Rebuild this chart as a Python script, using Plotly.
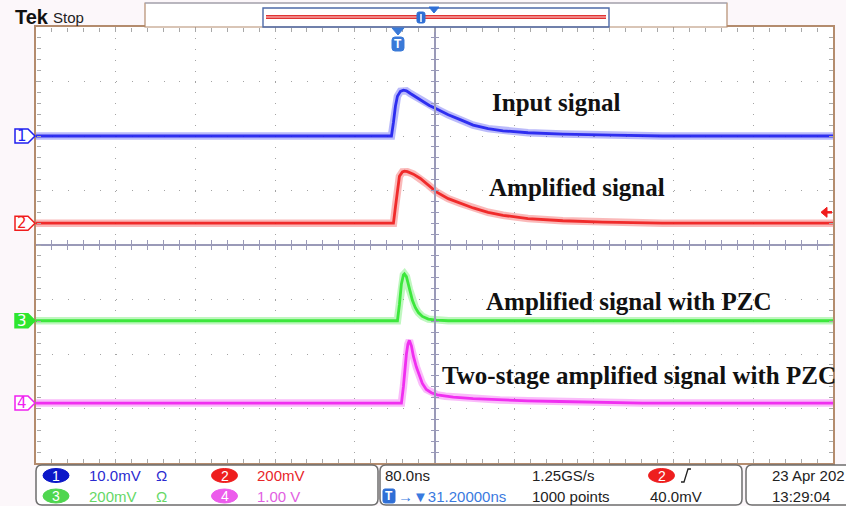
import plotly.graph_objects as go

# ---------------- acquisition settings ----------------
TIME_PER_DIV = 80.0      # ns / div
H_DELAY = 31.2           # ns, trigger -> screen centre
N_HDIV, N_VDIV = 10, 8

ch_names = ["1", "2", "3", "4"]
ch_scale = [10.0, 200.0, 200.0, 1.00]      # units / div
ch_units = ["mV", "mV", "mV", "V"]
ch_pos = [2.0, 0.40, -1.39, -2.90]         # vertical position, div
ch_colors = ["#1f1ff0", "#f01c1c", "#2ee62e", "#f020f0"]
ch_marker_filled = [False, False, True, False]
trig_level_mV = 40.0                        # on channel 2

# ---------------- waveforms (time relative to trigger, ns) ----------------
t1 = [-368.8, -12, -10, -8, -6, -3, 0, 3, 7, 12, 18, 26, 34, 45, 57, 70, 85,
      100, 125, 160, 210, 260, 431.2]
v1 = [0, 0, 2.5, 5.5, 7.3, 8.2, 8.4, 8.3, 7.8, 7.2, 6.5, 5.6, 4.9, 3.9, 3.0,
      2.0, 1.35, 0.95, 0.6, 0.35, 0.15, 0, 0]                       # mV

t2 = [-368.8, -10, -8, -6, -4, -1, 1, 4, 10, 17, 25, 33, 45, 57, 70, 85, 100,
      125, 160, 200, 260, 431.2]
v2 = [0, 0, 60, 125, 172, 188, 191, 189, 180, 164, 140, 115, 90, 73, 56, 40,
      29, 17, 9, 4, 0, 0]                                            # mV

t3 = [-368.8, -6, -4, -2, 0, 1, 3, 6, 9, 12, 15, 19, 25, 33, 45, 431.2]
v3 = [0, 0, 60, 135, 168, 172, 162, 115, 75, 48, 30, 16, 6, 2, 0, 0]  # mV

t4 = [-368.8, -2, 0, 1.5, 3, 4.5, 6, 8, 10, 13, 16, 19, 23, 28, 34, 42, 50,
      70, 97, 125, 157, 200, 240, 431.2]
v4 = [0, 0, 0.3, 0.65, 0.9, 1.08, 1.15, 1.05, 0.86, 0.66, 0.5, 0.36, 0.25,
      0.19, 0.15, 0.125, 0.11, 0.08, 0.055, 0.04, 0.028, 0.012, 0, 0]  # V

waves = [(t1, v1), (t2, v2), (t3, v3), (t4, v4)]

trace_labels = ["Input signal", "Amplified signal",
                "Amplified signal with PZC",
                "Two-stage amplified signal with PZC"]

# ---------------- page geometry ----------------
FIG_W, FIG_H = 846, 506
L, R, T, B = 36, 833, 27, 463
W, H = R - L, B - T


def px(x):
    return (x - L) / W


def py(y):
    return (B - y) / H


def path_px(points, close=True):
    s = "M " + " L ".join(f"{px(x):.5f},{py(y):.5f}" for x, y in points)
    return s + (" Z" if close else "")


def rrect(x0, y0, x1, y1, r):
    def p(x, y):
        return f"{px(x):.5f},{py(y):.5f}"
    return (f"M {p(x0 + r, y0)} L {p(x1 - r, y0)} Q {p(x1, y0)} {p(x1, y0 + r)} "
            f"L {p(x1, y1 - r)} Q {p(x1, y1)} {p(x1 - r, y1)} "
            f"L {p(x0 + r, y1)} Q {p(x0, y1)} {p(x0, y1 - r)} "
            f"L {p(x0, y0 + r)} Q {p(x0, y0)} {p(x0 + r, y0)} Z")


fig = go.Figure()

x_range = [H_DELAY - N_HDIV / 2 * TIME_PER_DIV, H_DELAY + N_HDIV / 2 * TIME_PER_DIV]
y_range = [-N_VDIV / 2, N_VDIV / 2]

BORDER = "#b48c6e"
GRID = "#a4a4a4"
TICK = "#a8a8a8"
CROSS = "#9a9ab8"

layout = dict(
    width=FIG_W, height=FIG_H, autosize=False,
    margin=dict(l=L, r=FIG_W - R, t=T, b=FIG_H - B, pad=0),
    paper_bgcolor="#fcf7fa", plot_bgcolor="#ffffff",
    showlegend=False,
    # graticule: dotted division lines, brown frame
    xaxis=dict(range=x_range, tick0=H_DELAY, dtick=TIME_PER_DIV,
               showgrid=True, gridcolor=GRID, gridwidth=1.2, griddash="1px,9.9px",
               showline=True, linecolor=BORDER, linewidth=1.5, mirror=True,
               ticks="", showticklabels=False, zeroline=False, fixedrange=True),
    yaxis=dict(range=y_range, tick0=0, dtick=1,
               showgrid=True, gridcolor=GRID, gridwidth=1.2, griddash="1px,14.94px",
               showline=True, linecolor=BORDER, linewidth=1.5, mirror=True,
               ticks="", showticklabels=False, zeroline=False, fixedrange=True),
)

# fine ticks: on the frame (inside) and across the centre cross
x_tick_axes = [("xaxis2", 0.0, "bottom", False), ("xaxis3", 1.0, "top", False),
               ("xaxis4", 0.5, "bottom", True), ("xaxis5", 0.5, "top", False)]
y_tick_axes = [("yaxis6", 0.0, "left", False), ("yaxis7", 1.0, "right", False),
               ("yaxis8", 0.5, "left", True), ("yaxis9", 0.5, "right", False)]
for name, pos, side, line in x_tick_axes:
    colr = CROSS if pos == 0.5 else TICK
    layout[name] = dict(overlaying="x", anchor="free", position=pos, side=side,
                        range=x_range, tick0=H_DELAY, dtick=TIME_PER_DIV / 5,
                        showline=line, linecolor=CROSS, linewidth=1.5,
                        ticks="inside", ticklen=4, tickcolor=colr, tickwidth=1,
                        showgrid=False, zeroline=False, showticklabels=False,
                        fixedrange=True)
for name, pos, side, line in y_tick_axes:
    colr = CROSS if pos == 0.5 else TICK
    layout[name] = dict(overlaying="y", anchor="free", position=pos, side=side,
                        range=y_range, tick0=0, dtick=0.2,
                        showline=line, linecolor=CROSS, linewidth=1.5,
                        ticks="inside", ticklen=4, tickcolor=colr, tickwidth=1,
                        showgrid=False, zeroline=False, showticklabels=False,
                        fixedrange=True)

# one vertical axis per channel (scale + position)
for i in range(4):
    lo = (-N_VDIV / 2 - ch_pos[i]) * ch_scale[i]
    hi = (N_VDIV / 2 - ch_pos[i]) * ch_scale[i]
    layout[f"yaxis{i + 2}"] = dict(overlaying="y", range=[lo, hi], visible=False,
                                   fixedrange=True)

# empty trace on the base subplot so the graticule axes own the main layer
fig.add_trace(go.Scatter(x=[None], y=[None], xaxis="x", yaxis="y",
                         showlegend=False, hoverinfo="skip"))
# empty traces that attach the tick axes
for name, *_ in x_tick_axes:
    fig.add_trace(go.Scatter(x=[None], y=[None], xaxis="x" + name[5:], yaxis="y",
                             showlegend=False, hoverinfo="skip"))
for name, *_ in y_tick_axes:
    fig.add_trace(go.Scatter(x=[None], y=[None], xaxis="x", yaxis="y" + name[5:],
                             showlegend=False, hoverinfo="skip"))

# waveforms: soft noise band + brighter core
for i, (t, v) in enumerate(waves):
    ya = f"y{i + 2}"
    fig.add_trace(go.Scatter(x=t, y=v, mode="lines", yaxis=ya, xaxis="x",
                             line=dict(color=ch_colors[i], width=7.5),
                             opacity=0.3, hoverinfo="skip", showlegend=False))
    fig.add_trace(go.Scatter(x=t, y=v, mode="lines", yaxis=ya, xaxis="x",
                             line=dict(color=ch_colors[i], width=2.8),
                             opacity=0.9, name=f"CH{ch_names[i]}",
                             showlegend=False))

fig.update_layout(**layout)

shapes = []
ann = []

# channel ground markers on the left edge
for i in range(4):
    c = ch_colors[i]
    shapes.append(dict(type="path", xref="paper", xsizemode="pixel", xanchor=0,
                       yref=f"y{i + 2}", ysizemode="pixel", yanchor=0,
                       path="M -21,7 L -8,7 L -1,0 L -8,-7 L -21,-7 Z",
                       fillcolor=c if ch_marker_filled[i] else "#ffffff",
                       line=dict(color=c, width=1.5), layer="above"))
    ann.append(dict(x=0, xref="paper", xshift=-14, y=0, yref=f"y{i + 2}",
                    text=ch_names[i], showarrow=False, xanchor="center",
                    yanchor="middle",
                    font=dict(family="DejaVu Sans", size=15,
                              color="#ffffff" if ch_marker_filled[i] else c)))

# trigger level arrow on the right edge (channel 2)
shapes.append(dict(type="path", xref="paper", xsizemode="pixel", xanchor=1,
                   yref="y3", ysizemode="pixel", yanchor=trig_level_mV,
                   path="M -12,0 L -6,5 L -6,-5 Z", fillcolor=ch_colors[1],
                   line=dict(color=ch_colors[1], width=1), layer="above"))
shapes.append(dict(type="path", xref="paper", xsizemode="pixel", xanchor=1,
                   yref="y3", ysizemode="pixel", yanchor=trig_level_mV,
                   path="M -7,0 L -1,0", line=dict(color=ch_colors[1], width=2.5),
                   layer="above"))

# trace captions
label_pos = [(490, 102), (487, 188), (484, 301), (440, 375)]
for (lx, ly), txt in zip(label_pos, trace_labels):
    ann.append(dict(x=px(lx), y=py(ly), xref="paper", yref="paper",
                    text=f"<b>{txt}</b>", showarrow=False, xanchor="left",
                    yanchor="middle",
                    font=dict(family="Liberation Serif", size=25, color="#111111")))

# ---------- top record bar ----------
ann.append(dict(x=px(13), y=py(17), xref="paper", yref="paper", text="<b>Tek</b>",
                showarrow=False, xanchor="left", yanchor="middle",
                font=dict(family="Liberation Sans", size=20, color="#111111")))
ann.append(dict(x=px(51), y=py(18), xref="paper", yref="paper", text="Stop",
                showarrow=False, xanchor="left", yanchor="middle",
                font=dict(family="Liberation Sans", size=15, color="#222222")))
shapes.append(dict(type="rect", xref="paper", yref="paper",
                   x0=px(145), x1=px(727), y0=py(27), y1=py(3),
                   fillcolor="#ffffff", line=dict(color=BORDER, width=1.2)))
shapes.append(dict(type="line", xref="paper", yref="paper",
                   x0=px(145), x1=px(727), y0=py(3), y1=py(3),
                   line=dict(color="#9aaac8", width=1.2)))
shapes.append(dict(type="rect", xref="paper", yref="paper",
                   x0=px(263), x1=px(609), y0=py(27), y1=py(8),
                   line=dict(color="#4d6aa8", width=1.4)))
shapes.append(dict(type="line", xref="paper", yref="paper",
                   x0=px(266), x1=px(606), y0=py(17), y1=py(17),
                   line=dict(color="#e03434", width=4)))
shapes.append(dict(type="line", xref="paper", yref="paper",
                   x0=px(266), x1=px(606), y0=py(17), y1=py(17),
                   line=dict(color="#ffd6d6", width=1.2)))
shapes.append(dict(type="path", xref="paper", yref="paper",
                   path=rrect(417, 12, 425, 23, 2), fillcolor="#2f6fd6",
                   line=dict(color="#2f6fd6", width=1)))
shapes.append(dict(type="line", xref="paper", yref="paper",
                   x0=px(421), x1=px(421), y0=py(14), y1=py(22),
                   line=dict(color="#ffffff", width=1.5)))
shapes.append(dict(type="path", xref="paper", yref="paper",
                   path=path_px([(429, 7), (439, 7), (434, 13)]),
                   fillcolor="#2f6fd6", line=dict(color="#2f6fd6", width=1)))

# trigger position marker below the top edge
shapes.append(dict(type="path", xref="paper", yref="paper",
                   path=path_px([(392, 28), (404, 28), (398, 35)]),
                   fillcolor="#3a7ad8", line=dict(color="#3a7ad8", width=1),
                   layer="above"))
shapes.append(dict(type="path", xref="paper", yref="paper",
                   path=rrect(392, 37, 404, 51, 3), fillcolor="#3a7ad8",
                   line=dict(color="#3a7ad8", width=1), layer="above"))
ann.append(dict(x=px(398), y=py(44), xref="paper", yref="paper", text="<b>T</b>",
                showarrow=False, xanchor="center", yanchor="middle",
                font=dict(family="Liberation Sans", size=12, color="#ffffff")))

# ---------- bottom readout ----------
SF = "Liberation Sans"
ROW1, ROW2 = 475.5, 496
BOXLINE = dict(color="#6e6e6e", width=1.5)
for x0, x1 in [(36, 378), (380, 742), (746, 870)]:
    shapes.append(dict(type="path", xref="paper", yref="paper",
                       path=rrect(x0, 465, x1, 505, 6), fillcolor="#ffffff",
                       line=BOXLINE))


def badge(xc, yc, fill, digit):
    shapes.append(dict(type="circle", xref="paper", yref="paper",
                       x0=px(xc - 13), x1=px(xc + 13), y0=py(yc + 7), y1=py(yc - 7),
                       fillcolor=fill, line=dict(color=fill, width=1)))
    ann.append(dict(x=px(xc), y=py(yc), xref="paper", yref="paper", text=digit,
                    showarrow=False, xanchor="center", yanchor="middle",
                    font=dict(family=SF, size=14, color="#ffffff")))


def text(x, y, s, color, anchor="left", size=15):
    ann.append(dict(x=px(x), y=py(y), xref="paper", yref="paper", text=s,
                    showarrow=False, xanchor=anchor, yanchor="middle",
                    font=dict(family=SF, size=size, color=color)))


badge(56, ROW1, "#0c18c8", "1")
text(87, ROW1, f"{ch_scale[0]:.1f}{ch_units[0]}", "#2a2ad0")
text(154, ROW1, "Ω", "#2a2ad0")
badge(224.5, ROW1, "#ee1e1e", "2")
text(255, ROW1, f"{ch_scale[1]:.0f}{ch_units[1]}", "#e8262a")
badge(56, ROW2, "#4fd64f", "3")
text(87, ROW2, f"{ch_scale[2]:.0f}{ch_units[2]}", "#66d866")
text(154, ROW2, "Ω", "#66d866")
badge(224.5, ROW2, "#ec5cec", "4")
text(255, ROW2, f"{ch_scale[3]:.2f} {ch_units[3]}", "#e25ee2")

text(383, ROW1, f"{TIME_PER_DIV:.1f}ns", "#222222")
shapes.append(dict(type="path", xref="paper", yref="paper",
                   path=rrect(383, 489, 395, 503, 2), fillcolor="#2f6fd6",
                   line=dict(color="#2f6fd6", width=1)))
ann.append(dict(x=px(389), y=py(496), xref="paper", yref="paper", text="<b>T</b>",
                showarrow=False, xanchor="center", yanchor="middle",
                font=dict(family=SF, size=12, color="#ffffff")))
text(396, ROW2, f"→▼{H_DELAY:.5f}ns", "#3a7ae0")
text(530, ROW1, "1.25GS/s", "#222222")
text(530, ROW2, "1000 points", "#222222")
badge(661.5, ROW1, "#ee1e1e", "2")
shapes.append(dict(type="path", xref="paper", yref="paper",
                   path=path_px([(681, 482), (684, 482), (688, 469), (691, 469)],
                                close=False),
                   line=dict(color="#222222", width=1.3)))
text(648, ROW2, f"{trig_level_mV:.1f}mV", "#222222")
text(770, ROW1, "23 Apr 202", "#222222")
text(770, ROW2, "13:29:04", "#222222")

fig.update_layout(shapes=shapes, annotations=ann)
fig.write_html("out.html")
